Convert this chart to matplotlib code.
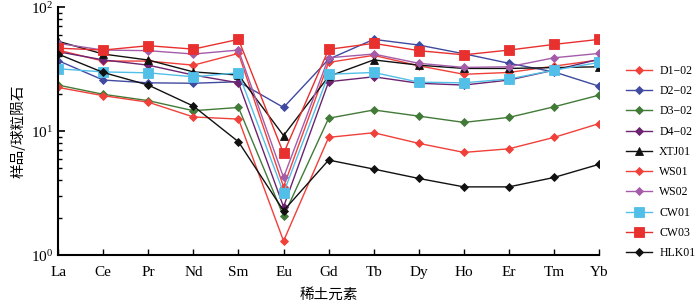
import matplotlib
matplotlib.use('Agg')
from matplotlib import pyplot as plt
from matplotlib.ticker import LogLocator, NullFormatter
import numpy as np

plt.rcParams['font.family'] = ['Liberation Serif', 'Noto Sans CJK SC']
plt.rcParams['mathtext.fontset'] = 'stix'

# REE elements (x axis)
elements = ['La', 'Ce', 'Pr', 'Nd', 'Sm', 'Eu', 'Gd', 'Tb', 'Dy', 'Ho', 'Er', 'Tm', 'Yb']

# chondrite-normalised values
d1_02 = [45, 36.7, 36.7, 34, 42.3, 3.55, 35.8, 40.8, 33.6, 28.7, 29.7, 33.4, 37.5]
d2_02 = [37, 25.8, 24.5, 24.3, 25, 15.5, 38, 54.9, 49.4, 42, 35.2, 30, 23]
d3_02 = [23.5, 19.8, 17.6, 14.6, 15.5, 2.06, 12.7, 14.8, 13.2, 11.75, 12.9, 15.7, 19.5]
d4_02 = [43.6, 37.5, 34, 28.3, 24.5, 2.45, 25, 27.4, 24.3, 23.5, 25.8, 31, 38]
xtj01 = [53, 41.8, 37.4, 30, 28.3, 9.2, 27.6, 37.5, 34, 32, 32, 32.5, 33]
ws01 = [22.5, 19.3, 17.1, 13, 12.5, 1.3, 8.9, 9.7, 7.96, 6.73, 7.2, 8.9, 11.5]
ws02 = [51, 45, 44.5, 41.8, 45, 4.23, 39, 41.8, 35.2, 32.6, 33, 39, 42.3]
cw01 = [31.8, 30, 29.5, 27.4, 29.5, 3.18, 28.7, 29.7, 24.8, 24.5, 26.3, 31, 35.8]
cw03 = [46.6, 45, 48.8, 45.8, 54.9, 6.6, 45.6, 51, 44.5, 41.2, 45, 50, 54.9]
hlk01 = [41.8, 29.7, 23.5, 15.9, 8.2, 2.28, 5.84, 4.94, 4.15, 3.55, 3.55, 4.23, 5.4]

names = ['D1-02', 'D2-02', 'D3-02', 'D4-02', 'XTJ01', 'WS01', 'WS02', 'CW01', 'CW03', 'HLK01']
series = [d1_02, d2_02, d3_02, d4_02, xtj01, ws01, ws02, cw01, cw03, hlk01]
colors = ['#f0403a', '#3f4aa0', '#427a38', '#6c2470', '#111111',
          '#f0403a', '#a45ca9', '#52bfe8', '#e8302e', '#111111']
markers = ['D', 'D', 'D', 'D', '^', 'D', 'D', 's', 's', 'D']
msizes = [4.5, 4.5, 4.5, 4.5, 6, 4.5, 4.5, 6.5, 6.5, 4.5]

fig = plt.figure(figsize=(7, 3.07), dpi=100)
ax = fig.add_axes([0.083, 0.169, 0.773, 0.808])

x = np.arange(len(elements))
for vals, name, c, m, ms in zip(series, names, colors, markers, msizes):
    ax.plot(x, vals, color=c, marker=m, markersize=ms, linewidth=1.0,
            markeredgewidth=0.6, label=name.replace('-', '\u2212'))

ax.set_yscale('log')
ax.set_ylim(1, 100)
ax.set_xlim(0, 12)
ax.set_xticks(x)
ax.set_xticklabels(elements, fontsize=11)
ax.yaxis.set_major_locator(LogLocator(base=10))
ax.yaxis.set_minor_locator(LogLocator(base=10, subs=np.arange(2, 10)))
ax.yaxis.set_minor_formatter(NullFormatter())
ax.tick_params(axis='both', which='both', direction='in')
ax.tick_params(axis='y', which='major', length=5, width=1.2, labelsize=11)
ax.tick_params(axis='y', which='minor', length=3, width=1.0)
ax.tick_params(axis='x', length=4, width=1.0, pad=8)
for s in ['top', 'right']:
    ax.spines[s].set_visible(False)
ax.spines['left'].set_linewidth(1.5)
ax.spines['bottom'].set_linewidth(1.5)

ax.set_xlabel('稀土元素', fontsize=10.5, family=['Noto Sans CJK SC'], labelpad=6)
ax.set_ylabel('样品/球粒陨石', fontsize=10.5, family=['Noto Sans CJK SC'], labelpad=4)

ax.legend(loc='center left', bbox_to_anchor=(1.03, 0.375), frameon=False,
          fontsize=8.5, handlelength=2.2, handletextpad=0.6,
          labelspacing=0.7, borderaxespad=0.5)

fig.savefig('out.png', dpi=100)
